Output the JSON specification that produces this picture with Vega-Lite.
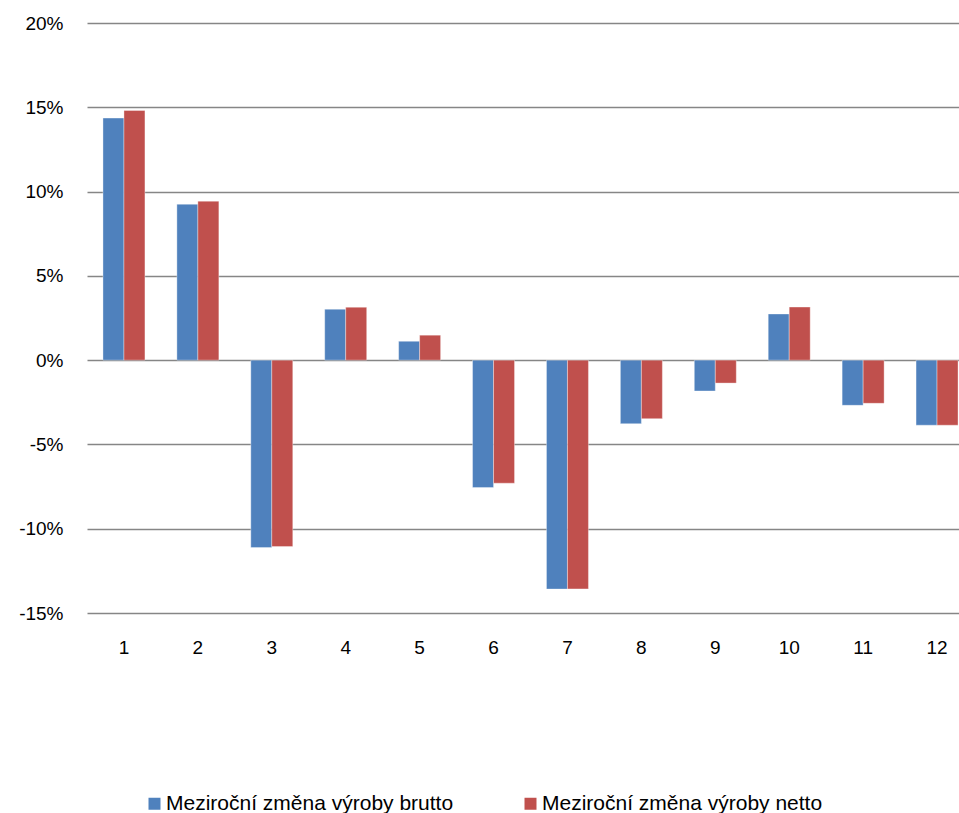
{
  "$schema": "https://vega.github.io/schema/vega-lite/v6.json",
  "autosize": {"type": "none"},
  "width": 872,
  "height": 590,
  "padding": {"left": 87, "top": 23, "right": 0, "bottom": 200},
  "background": "#ffffff",
  "config": {
    "view": {"stroke": null},
    "font": "Liberation Sans"
  },
  "data": {
    "values": [
      {"mesic": 1, "rada": "Meziroční změna výroby brutto", "hodnota": 14.36},
      {"mesic": 1, "rada": "Meziroční změna výroby netto", "hodnota": 14.81},
      {"mesic": 2, "rada": "Meziroční změna výroby brutto", "hodnota": 9.25},
      {"mesic": 2, "rada": "Meziroční změna výroby netto", "hodnota": 9.43},
      {"mesic": 3, "rada": "Meziroční změna výroby brutto", "hodnota": -11.12},
      {"mesic": 3, "rada": "Meziroční změna výroby netto", "hodnota": -11.06},
      {"mesic": 4, "rada": "Meziroční změna výroby brutto", "hodnota": 3.02},
      {"mesic": 4, "rada": "Meziroční změna výroby netto", "hodnota": 3.14},
      {"mesic": 5, "rada": "Meziroční změna výroby brutto", "hodnota": 1.12},
      {"mesic": 5, "rada": "Meziroční změna výroby netto", "hodnota": 1.48},
      {"mesic": 6, "rada": "Meziroční změna výroby brutto", "hodnota": -7.56},
      {"mesic": 6, "rada": "Meziroční změna výroby netto", "hodnota": -7.30},
      {"mesic": 7, "rada": "Meziroční změna výroby brutto", "hodnota": -13.58},
      {"mesic": 7, "rada": "Meziroční změna výroby netto", "hodnota": -13.57},
      {"mesic": 8, "rada": "Meziroční změna výroby brutto", "hodnota": -3.77},
      {"mesic": 8, "rada": "Meziroční změna výroby netto", "hodnota": -3.47},
      {"mesic": 9, "rada": "Meziroční změna výroby brutto", "hodnota": -1.83},
      {"mesic": 9, "rada": "Meziroční změna výroby netto", "hodnota": -1.36},
      {"mesic": 10, "rada": "Meziroční změna výroby brutto", "hodnota": 2.74},
      {"mesic": 10, "rada": "Meziroční změna výroby netto", "hodnota": 3.15},
      {"mesic": 11, "rada": "Meziroční změna výroby brutto", "hodnota": -2.68},
      {"mesic": 11, "rada": "Meziroční změna výroby netto", "hodnota": -2.56},
      {"mesic": 12, "rada": "Meziroční změna výroby brutto", "hodnota": -3.86},
      {"mesic": 12, "rada": "Meziroční změna výroby netto", "hodnota": -3.86}
    ]
  },
  "mark": {"type": "bar", "stroke": "#ffffff", "strokeWidth": 0.6, "strokeOpacity": 0.6},
  "encoding": {
    "x": {
      "field": "mesic",
      "type": "ordinal",
      "scale": {"range": [0, 887], "paddingInner": 0.432, "paddingOuter": 0.216},
      "axis": {
        "title": null,
        "labelAngle": 0,
        "ticks": false,
        "domain": false,
        "labelPadding": 25,
        "labelFontSize": 19,
        "labelColor": "#000000",
        "labelFont": "Liberation Sans"
      }
    },
    "xOffset": {"field": "rada", "type": "nominal", "scale": {"paddingInner": 0, "paddingOuter": 0}},
    "y": {
      "field": "hodnota",
      "type": "quantitative",
      "scale": {"domain": [-15, 20], "nice": false, "zero": true},
      "axis": {
        "title": null,
        "values": [-15, -10, -5, 0, 5, 10, 15, 20],
        "labelExpr": "datum.value + '%'",
        "ticks": false,
        "domain": false,
        "grid": true,
        "gridColor": "#868686",
        "gridWidth": 1.7,
        "labelPadding": 24,
        "labelFontSize": 19,
        "labelColor": "#000000",
        "labelFont": "Liberation Sans"
      }
    },
    "color": {
      "field": "rada",
      "type": "nominal",
      "scale": {
        "domain": ["Meziroční změna výroby brutto", "Meziroční změna výroby netto"],
        "range": ["#4F81BD", "#C0504D"]
      },
      "legend": {
        "title": null,
        "orient": "none",
        "direction": "horizontal",
        "legendX": 57,
        "legendY": 770,
        "symbolType": "square",
        "symbolSize": 144,
        "symbolStrokeWidth": 0,
        "labelOffset": 1,
        "labelFontSize": 21,
        "labelFont": "Liberation Sans",
        "labelColor": "#000000",
        "columnPadding": 66,
        "labelLimit": 0
      }
    }
  }
}
